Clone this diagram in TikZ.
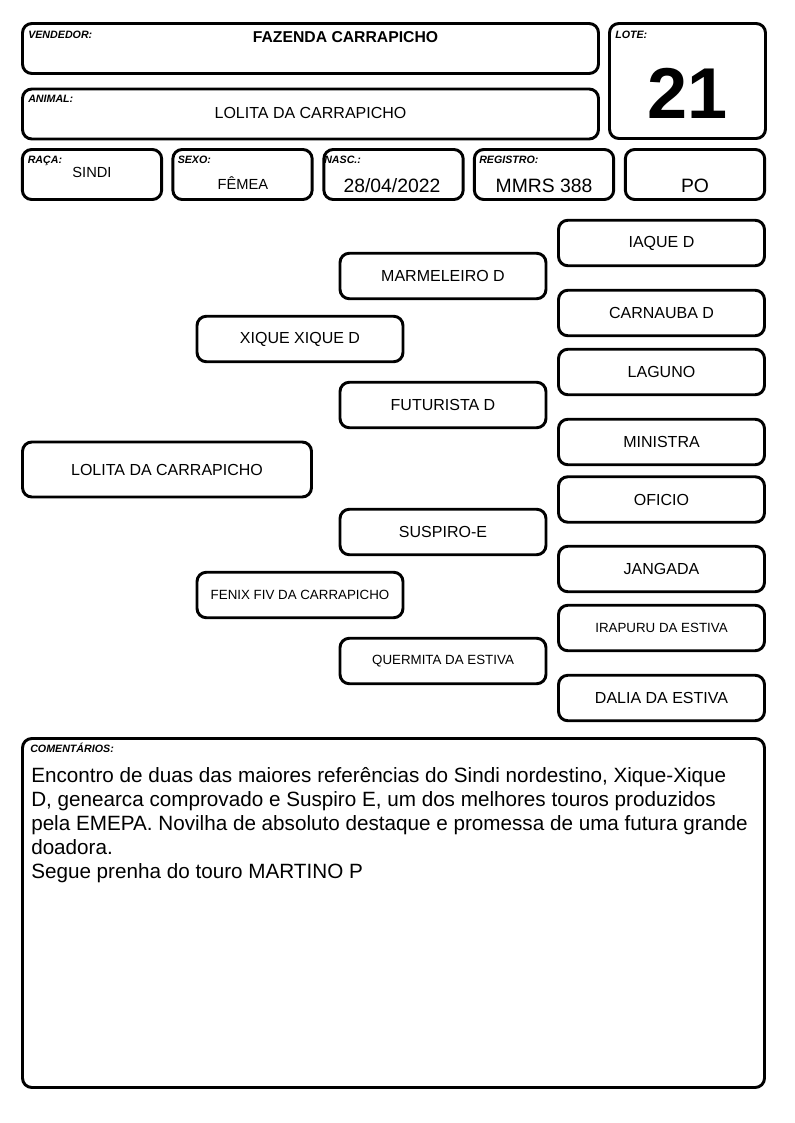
\documentclass[tikz,border=0pt]{standalone}
\usepackage{fontspec}
\setmainfont{Liberation Sans}
\usepackage{tikz}
\usetikzlibrary{positioning}

\tikzset{
  caixa/.style={draw, line width=2.2pt, rounded corners=7pt, inner sep=0pt},
  rotulo/.style={anchor=base west, inner sep=0pt, font=\fontsize{8}{9}\selectfont\bfseries\itshape},
  valor/.style={anchor=base, inner sep=0pt},
  nome/.style={caixa, minimum width=154.5pt, minimum height=34.1pt, font=\fontsize{12}{14}\selectfont},
  nomepeq/.style={nome, font=\fontsize{10}{12}\selectfont},
}

\begin{document}
\begin{tikzpicture}[x=0.75pt, y=-0.75pt]
    \useasboundingbox (0,0) rectangle (794,1123);
    % cabecalho: 1 unidade = 1 px da ficha
    \node[caixa, minimum width=432pt, minimum height=37.5pt] (vendedor) at (310.5,48.5) {};
    \node[caixa, minimum width=432pt, minimum height=37.5pt] (animal) at (310.5,114) {};
    \node[caixa, minimum width=117pt, minimum height=86.25pt] (lote) at (687.5,81) {};
    \node[rotulo] (lvendedor) at (28,38.3) {VENDEDOR:};
    \node[rotulo] (lanimal) at (28,102.3) {ANIMAL:};
    \node[rotulo] (llote) at (615,38.3) {LOTE:};
    \node[valor, font=\fontsize{11.8}{14}\selectfont\bfseries] (vvendedor) at (345.5,43) {FAZENDA CARRAPICHO};
    \node[valor, font=\fontsize{12}{14}\selectfont] (vanimal) at (310.5,118.5) {LOLITA DA CARRAPICHO};
    \node[valor, font=\fontsize{54}{56}\selectfont\bfseries] (vlote) at (688,118.3) {21};
    % linha de dados: \id/centro x/rotulo
    \foreach \id/\cx/\lx/\lab in {raca/92/27.5/RAÇA:, sexo/242.5/177.5/SEXO:, nasc/393.5/324/NASC.:, registro/544/479/REGISTRO:, po/695/0/} {
      \node[caixa, minimum width=104.5pt, minimum height=37.5pt] (\id) at (\cx,174.5) {};
      \ifx\lab\empty\else
        \node[rotulo] (l\id) at (\lx,164) {\lab};
      \fi
    }
    \node[valor, font=\fontsize{11}{13}\selectfont] (vraca) at (92,177.5) {SINDI};
    \node[valor, font=\fontsize{11}{13}\selectfont] (vsexo) at (243,189.5) {FÊMEA};
    \node[valor, font=\fontsize{14.5}{16}\selectfont] (vnasc) at (392,193) {28/04/2022};
    \node[valor, font=\fontsize{14.5}{16}\selectfont] (vregistro) at (544,193) {MMRS 388};
    \node[valor, font=\fontsize{14.5}{16}\selectfont] (vpo) at (695,193) {PO};
    % genealogia
    \node[nome, minimum width=216.75pt, minimum height=41.25pt] (lolita) at (167,469.5) {LOLITA DA CARRAPICHO};
    \node[nome] (xique) at (300,339) {XIQUE XIQUE D};
    \node[nomepeq] (fenix) at (300,595) {FENIX FIV DA CARRAPICHO};
    \foreach \id/\cy/\txt in {marmeleiro/276/MARMELEIRO D, futurista/405/FUTURISTA D, suspiro/532/SUSPIRO-E} {
      \node[nome] (\id) at (443,\cy) {\txt};
    }
    \node[nomepeq] (quermita) at (443,661) {QUERMITA DA ESTIVA};
    \foreach \id/\cy/\txt in {iaque/243/IAQUE D, carnauba/313/CARNAUBA D, laguno/372/LAGUNO, ministra/442/MINISTRA, oficio/499.5/OFICIO, jangada/569/JANGADA, dalia/698/DALIA DA ESTIVA} {
      \node[nome] (\id) at (661.5,\cy) {\txt};
    }
    \node[nomepeq] (irapuru) at (661.5,628) {IRAPURU DA ESTIVA};
    % comentarios
    \node[caixa, minimum width=556.5pt, minimum height=261.75pt] (coment) at (393.5,913) {};
    \node[rotulo] (lcoment) at (30,752.5) {COMENTÁRIOS:};
    \node[anchor=north west, inner sep=0pt, align=left, font=\fontsize{15.5}{18}\selectfont] (tcoment) at (31,767.5)
      {Encontro de duas das maiores referências do Sindi nordestino, Xique-Xique\\
       D, genearca comprovado e Suspiro E, um dos melhores touros produzidos\\
       pela EMEPA. Novilha de absoluto destaque e promessa de uma futura grande\\
       doadora.\\
       Segue prenha do touro MARTINO P};
\end{tikzpicture}
\end{document}
